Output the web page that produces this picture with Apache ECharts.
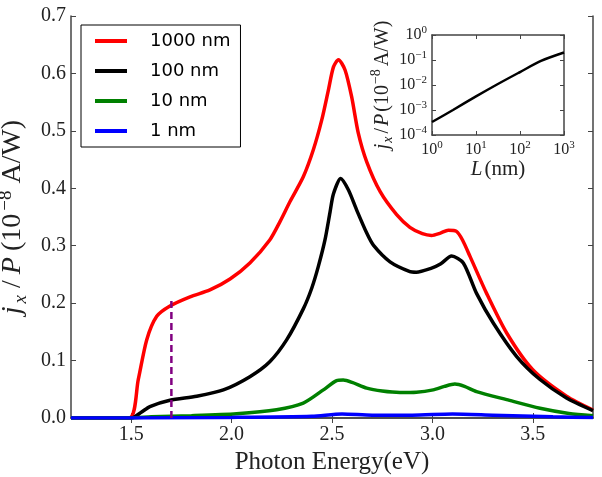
<!DOCTYPE html>
<html><head><meta charset="utf-8">
<script src="https://cdn.jsdelivr.net/npm/echarts@6/dist/echarts.min.js"></script>
<style>html,body{margin:0;padding:0;background:#fff}#c{width:602px;height:477px}</style>
</head><body><div id="c"></div>
<script>
// ---- data ----
const seriesNames = ['1000 nm', '100 nm', '10 nm', '1 nm'];
const xTicks = [1.5, 2.0, 2.5, 3.0, 3.5];

const redE = [1.2, 1.49, 1.535, 1.577, 1.627, 1.693, 1.793, 1.892, 1.992, 2.091, 2.19, 2.241, 2.291, 2.357, 2.407, 2.449, 2.482, 2.507, 2.532, 2.565, 2.598, 2.631, 2.673, 2.74, 2.822, 2.888, 2.95, 2.996, 3.04, 3.079, 3.12, 3.15, 3.188, 3.27, 3.37, 3.5, 3.668, 3.8];
const redV = [0, 0, 0.067, 0.136, 0.177, 0.195, 0.211, 0.223, 0.242, 0.27, 0.31, 0.342, 0.377, 0.42, 0.467, 0.519, 0.571, 0.611, 0.624, 0.606, 0.559, 0.496, 0.446, 0.394, 0.354, 0.332, 0.321, 0.318, 0.322, 0.327, 0.325, 0.31, 0.281, 0.217, 0.148, 0.084, 0.038, 0.014];

const blackE = [1.2, 1.502, 1.55, 1.593, 1.693, 1.826, 1.959, 2.091, 2.19, 2.274, 2.357, 2.399, 2.432, 2.465, 2.49, 2.507, 2.543, 2.582, 2.623, 2.673, 2.706, 2.789, 2.888, 2.92, 2.996, 3.04, 3.096, 3.154, 3.22, 3.304, 3.42, 3.536, 3.668, 3.8];
const blackV = [0, 0, 0.01, 0.02, 0.031, 0.038, 0.049, 0.072, 0.098, 0.136, 0.19, 0.226, 0.264, 0.31, 0.358, 0.39, 0.417, 0.397, 0.362, 0.322, 0.301, 0.272, 0.255, 0.254, 0.261, 0.268, 0.282, 0.27, 0.217, 0.165, 0.107, 0.067, 0.035, 0.013];

const greenE = [1.2, 1.5, 1.6, 1.8, 2.025, 2.224, 2.357, 2.457, 2.523, 2.556, 2.6, 2.673, 2.75, 2.838, 2.92, 3.004, 3.06, 3.112, 3.16, 3.22, 3.37, 3.536, 3.68, 3.8];
const greenV = [0, 0, 0.002, 0.004, 0.0075, 0.0145, 0.026, 0.049, 0.065, 0.066, 0.062, 0.052, 0.047, 0.0445, 0.045, 0.049, 0.055, 0.059, 0.055, 0.046, 0.032, 0.017, 0.008, 0.004];

const blueE = [1.2, 1.5, 2.0, 2.4, 2.55, 2.7, 2.9, 3.1, 3.3, 3.6, 3.8];
const blueV = [0, 0, 0.001, 0.003, 0.007, 0.005, 0.005, 0.007, 0.005, 0.002, 0.001];

const markerE = 1.7;
const markerTop = 0.207;

const insetL = [1, 3, 10, 30, 100, 300, 1000];
const insetV = [3.3e-4, 1.0e-3, 3.5e-3, 0.0105, 0.033, 0.092, 0.2];

// ---- helpers ----
const zip = (a, b) => a.map((x, i) => [x, b[i]]);
const serif = 'Liberation Serif';
const axisCol = '#444';
const txtCol = '#222';

const yName = '{i|j}{sub|x}{n|/}{i|P}{n|(10}{sup|−8}{n|A/W)}';
function nameRich(fs, pad) {
  const s = Math.round(fs * 0.68);
  return {
    i: { fontFamily: serif, fontStyle: 'italic', fontSize: fs, lineHeight: fs + 6, verticalAlign: 'middle', color: txtCol, padding: [0, pad, 0, pad] },
    n: { fontFamily: serif, fontSize: fs, lineHeight: fs + 6, verticalAlign: 'middle', color: txtCol, padding: [0, pad, 0, pad] },
    sub: { fontFamily: serif, fontStyle: 'italic', fontSize: s, lineHeight: s, verticalAlign: 'bottom', color: txtCol, padding: [0, pad + 1, 0, 0] },
    sup: { fontFamily: serif, fontSize: s, lineHeight: s, verticalAlign: 'top', color: txtCol, padding: [0, pad + 1, 0, 0] }
  };
}
const logLabelRich = {
  b: { fontFamily: serif, fontSize: 16, lineHeight: 20, verticalAlign: 'middle', color: txtCol },
  s: { fontFamily: serif, fontSize: 11, lineHeight: 11, verticalAlign: 'top', color: txtCol }
};
const logFmt = v => '{b|10}{s|' + String(Math.round(Math.log10(v))).replace('-', '−') + '}';

const mainGrid = { left: 71, top: 16, right: 9, bottom: 59, outerBoundsMode: 'none', containLabel: false };
const insetGrid = { left: 432, top: 35, width: 132, height: 100, outerBoundsMode: 'none', containLabel: false };
const lineAx = { show: true, lineStyle: { color: axisCol, width: 1.5 } };

const option = {
  animation: false,
  backgroundColor: '#fff',
  grid: [mainGrid, insetGrid],
  legend: {
    data: seriesNames,
    orient: 'vertical',
    left: 81, top: 25,
    padding: [6, 10, 6, 14],
    itemGap: 10,
    itemWidth: 32, itemHeight: 4,
    icon: 'rect',
    backgroundColor: '#fff',
    borderColor: '#000', borderWidth: 1, borderRadius: 0,
    textStyle: { fontFamily: 'DejaVu Sans', fontSize: 18, lineHeight: 20, color: '#000', padding: [0, 0, 0, 18] }
  },
  xAxis: [
    { type: 'value', gridIndex: 0, min: 1.2, max: 3.8, position: 'bottom',
      axisLine: lineAx, splitLine: { show: false },
      axisTick: { inside: true, length: 5, customValues: xTicks, lineStyle: { color: axisCol } },
      axisLabel: { customValues: xTicks, formatter: v => v.toFixed(1), fontFamily: serif, fontSize: 20, color: txtCol, margin: 7 },
      name: 'Photon Energy(eV)', nameLocation: 'middle', nameGap: 27,
      nameTextStyle: { fontFamily: serif, fontSize: 25, color: txtCol } },
    { type: 'value', gridIndex: 0, min: 1.2, max: 3.8, position: 'top',
      axisLine: lineAx, splitLine: { show: false },
      axisTick: { inside: true, length: 5, customValues: xTicks, lineStyle: { color: axisCol } },
      axisLabel: { show: false } },
    { type: 'log', gridIndex: 1, min: 1, max: 1000, logBase: 10, position: 'bottom',
      axisLine: lineAx, splitLine: { show: false },
      axisTick: { inside: true, length: 4, lineStyle: { color: axisCol } },
      axisLabel: { formatter: logFmt, rich: logLabelRich, margin: 5 },
      name: '{i|L}{n|(nm)}', nameLocation: 'middle', nameGap: 20,
      nameTextStyle: { rich: nameRich(21, 1) } },
    { type: 'log', gridIndex: 1, min: 1, max: 1000, logBase: 10, position: 'top',
      axisLine: lineAx, splitLine: { show: false },
      axisTick: { inside: true, length: 4, lineStyle: { color: axisCol } },
      axisLabel: { show: false } }
  ],
  yAxis: [
    { type: 'value', gridIndex: 0, min: 0, max: 0.7, interval: 0.1, position: 'left',
      axisLine: lineAx, splitLine: { show: false },
      axisTick: { inside: true, length: 5, lineStyle: { color: axisCol } },
      axisLabel: { formatter: v => v.toFixed(1), fontFamily: serif, fontSize: 20, color: txtCol, margin: 5 },
      name: yName, nameLocation: 'middle', nameGap: 33,
      nameTextStyle: { rich: nameRich(28, 3) } },
    { type: 'value', gridIndex: 0, min: 0, max: 0.7, interval: 0.1, position: 'right',
      axisLine: lineAx, splitLine: { show: false },
      axisTick: { inside: true, length: 5, lineStyle: { color: axisCol } },
      axisLabel: { show: false } },
    { type: 'log', gridIndex: 1, min: 1e-4, max: 1, logBase: 10, position: 'left',
      axisLine: lineAx, splitLine: { show: false },
      axisTick: { inside: true, length: 4, lineStyle: { color: axisCol } },
      axisLabel: { formatter: logFmt, rich: logLabelRich, margin: 5 },
      name: yName, nameLocation: 'middle', nameGap: 36,
      nameTextStyle: { rich: nameRich(20, 1) } },
    { type: 'log', gridIndex: 1, min: 1e-4, max: 1, logBase: 10, position: 'right',
      axisLine: lineAx, splitLine: { show: false },
      axisTick: { inside: true, length: 4, lineStyle: { color: axisCol } },
      axisLabel: { show: false } }
  ],
  series: [
    { name: seriesNames[0], type: 'line', xAxisIndex: 0, yAxisIndex: 0, data: zip(redE, redV), smooth: 0.25, showSymbol: false, color: '#ff0000', lineStyle: { width: 3.5, color: '#ff0000' } },
    { name: seriesNames[1], type: 'line', xAxisIndex: 0, yAxisIndex: 0, data: zip(blackE, blackV), smooth: 0.25, showSymbol: false, color: '#000000', lineStyle: { width: 3.5, color: '#000000' } },
    { name: seriesNames[2], type: 'line', xAxisIndex: 0, yAxisIndex: 0, data: zip(greenE, greenV), smooth: 0.25, showSymbol: false, color: '#008000', lineStyle: { width: 3.5, color: '#008000' } },
    { name: seriesNames[3], type: 'line', xAxisIndex: 0, yAxisIndex: 0, data: zip(blueE, blueV), smooth: 0.25, showSymbol: false, color: '#0000ff', lineStyle: { width: 3.5, color: '#0000ff' } },
    { name: 'marker', type: 'line', xAxisIndex: 0, yAxisIndex: 0, data: [[markerE, 0], [markerE, markerTop]], showSymbol: false, lineStyle: { width: 2.5, color: '#800080', type: [7, 4] } },
    { name: 'inset', type: 'line', xAxisIndex: 2, yAxisIndex: 2, data: zip(insetL, insetV), smooth: 0.3, showSymbol: false, lineStyle: { width: 2.5, color: '#000' } }
  ]
};
const chart = echarts.init(document.getElementById('c'), null, { renderer: 'canvas' });
chart.setOption(option);
</script></body></html>
